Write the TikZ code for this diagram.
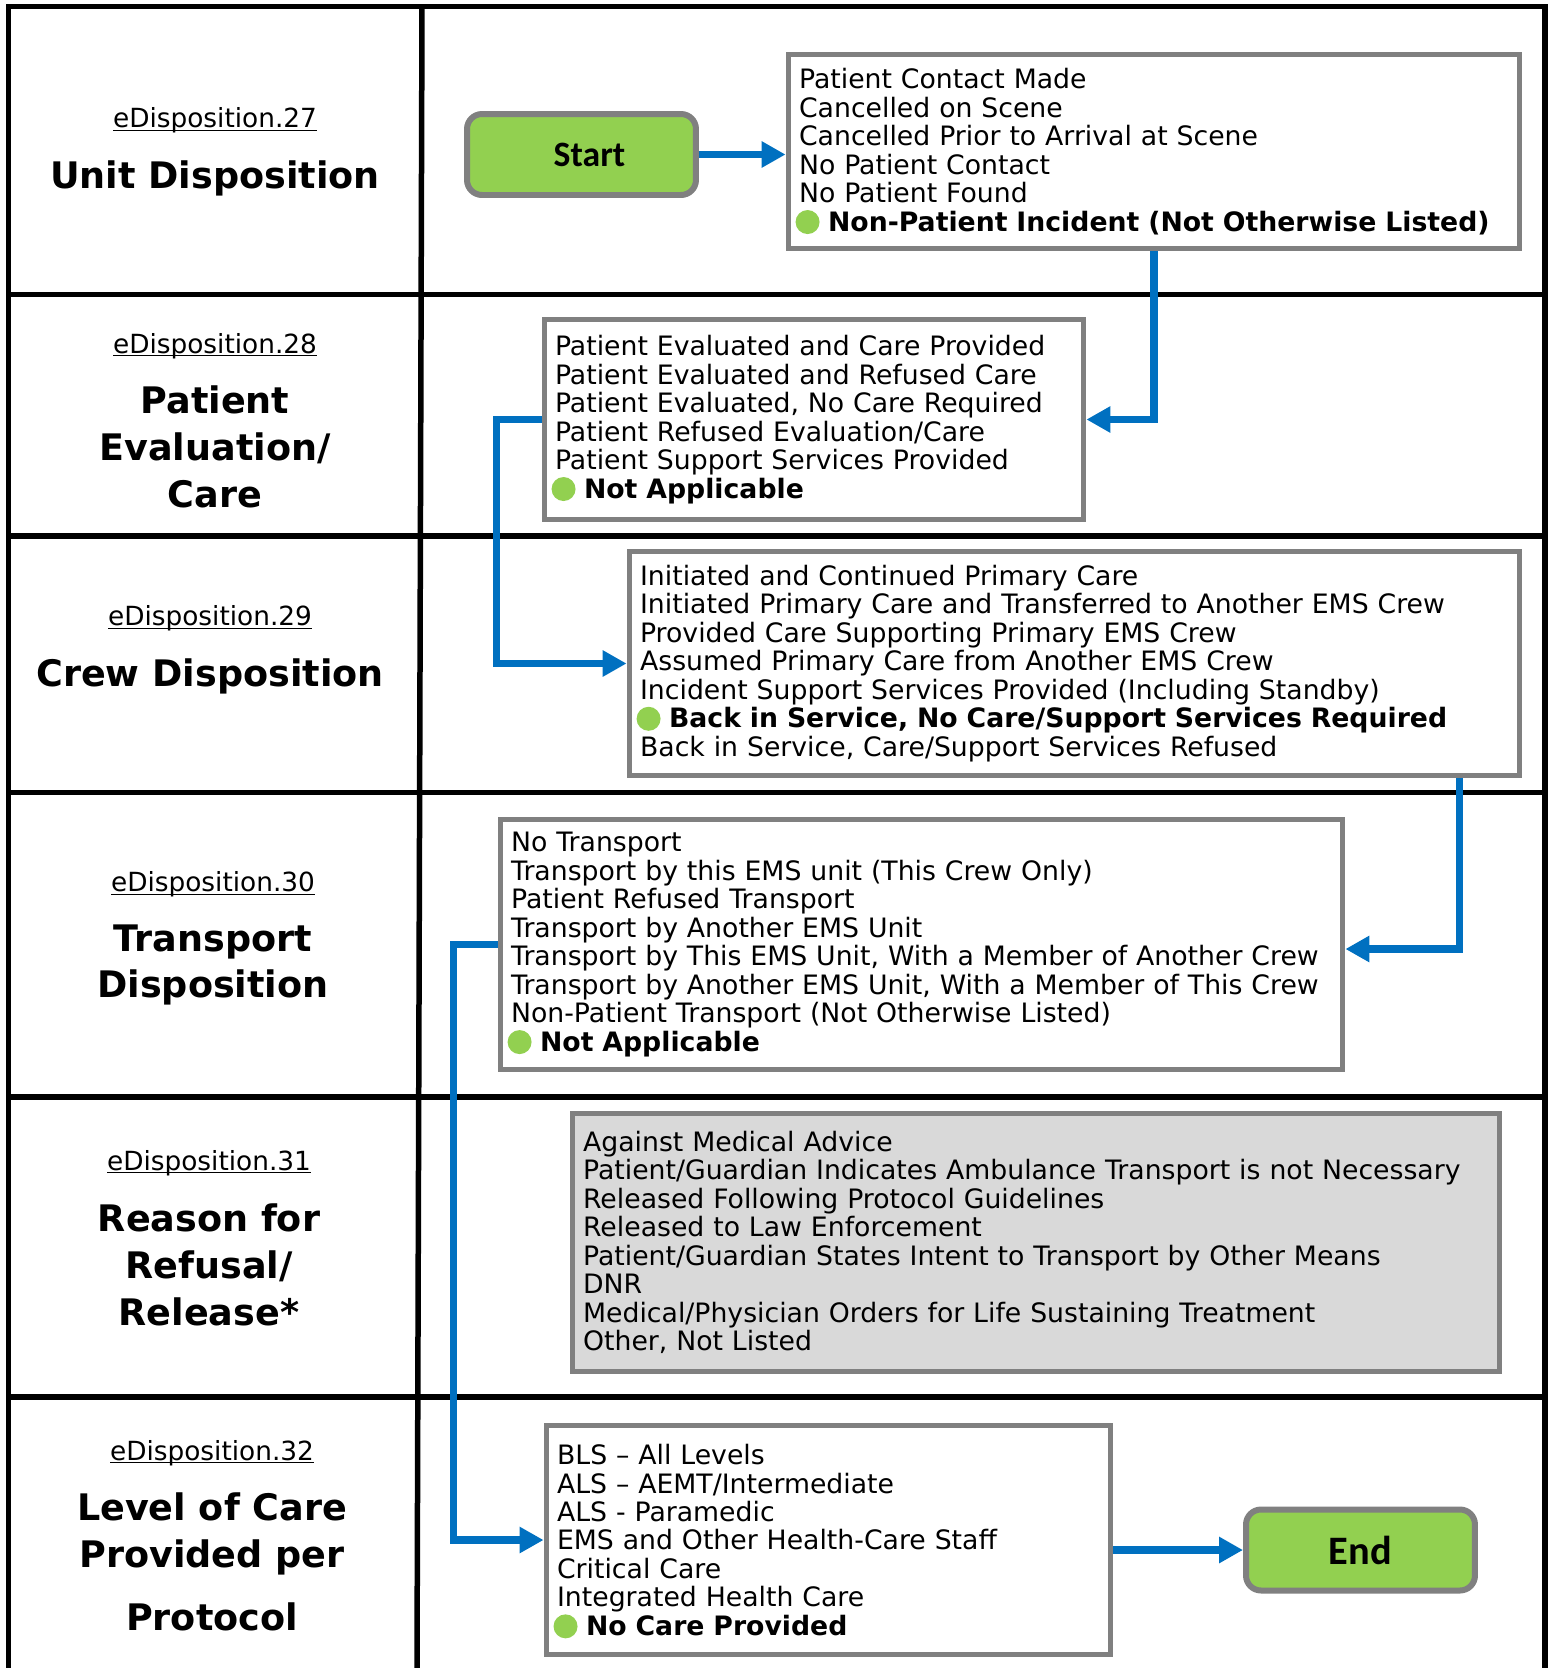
\documentclass[tikz,border=0pt]{standalone}
\usepackage{fontspec}
\setmainfont{DejaVu Sans}
\newfontfamily\termfont{Carlito}
\usetikzlibrary{arrows.meta}
\definecolor{flowblue}{HTML}{0070C0}
\definecolor{termgreen}{HTML}{92D050}
\definecolor{boxgray}{HTML}{808080}
\definecolor{fillgray}{HTML}{D9D9D9}
\newcommand{\gdot}{\makebox[0.58cm][l]{\hspace{-0.07cm}\smash{\tikz[baseline=-0.18cm]\fill[termgreen] (0.24cm,0cm) circle (0.24cm);}}}
\newcommand{\tagtext}[1]{\underline{\smash{#1}}}

\begin{document}
\begin{tikzpicture}[x=0.02cm, y=-0.02cm,
    frameline/.style={line width=0.11cm, black},
    listbox/.style={draw=boxgray, line width=0.1cm, fill=white, align=left, inner xsep=0.22cm, inner ysep=0.1cm, font=\fontsize{15.2}{16.2}\selectfont},
    termbox/.style={draw=boxgray, line width=0.12cm, fill=termgreen, rounded corners=0.3cm, minimum width=4.58cm, minimum height=1.62cm},
    tag/.style={anchor=base, font=\fontsize{15}{18}\selectfont},
    title/.style={align=center, font=\fontsize{20.8}{26.7}\selectfont\bfseries},
    flow/.style={draw=flowblue, line width=0.15cm, -{Triangle[length=0.48cm,width=0.5cm]}}]

\useasboundingbox (0,0) rectangle (1549,1668);

\draw[frameline] (8.7,1668) -- (8.7,6.3) -- (1545,6.3) -- (1545,1668);
\foreach \y in {294.5,536,792.5,1097,1397}
    \draw[frameline] (8.7,\y) -- (1545,\y);
\draw[frameline] (422,6.3) -- (417,1668);

\node[tag] (lbl27) at (215,127.7) {\tagtext{eDisposition.27}};
\node[title] (ttl27) at (215,178) {Unit Disposition};
\node[tag] (lbl28) at (215,353) {\tagtext{eDisposition.28}};
\node[title] (ttl28) at (215,447) {Patient\\Evaluation/\\Care};
\node[tag] (lbl29) at (210,625.5) {\tagtext{eDisposition.29}};
\node[title] (ttl29) at (210,676) {Crew Disposition};
\node[tag] (lbl30) at (213,891.5) {\tagtext{eDisposition.30}};
\node[title] (ttl30) at (213,965) {Transport\\Disposition};
\node[tag] (lbl31) at (209,1170) {\tagtext{eDisposition.31}};
\node[title] (ttl31) at (209,1265) {Reason for\\Refusal/\\Release*};
\node[tag] (lbl32) at (212,1460) {\tagtext{eDisposition.32}};
\node[title] (ttl32) at (212,1562) {Level of Care\\Provided per\\[0.32cm]Protocol};

\node[termbox, font=\termfont\bfseries\fontsize{20.3}{24}\selectfont] (start) at (581.5,154.5) {\hspace*{0.32cm}Start};
\node[termbox, font=\termfont\bfseries\fontsize{23}{27}\selectfont] (stop) at (1360.5,1550) {End};

\node[listbox, text width=14.2cm, minimum height=3.9cm] (disp27) at (1154,151.5) {Patient Contact Made\\
Cancelled on Scene\\
Cancelled Prior to Arrival at Scene\\
No Patient Contact\\
No Patient Found\\
\gdot\textbf{Non-Patient Incident (Not Otherwise Listed)}};

\node[listbox, text width=10.36cm, minimum height=4.02cm] (disp28) at (814,419.5) {Patient Evaluated and Care Provided\\
Patient Evaluated and Refused Care\\
Patient Evaluated, No Care Required\\
Patient Refused Evaluation/Care\\
Patient Support Services Provided\\
\gdot\textbf{Not Applicable}};

\node[listbox, text width=17.38cm, minimum height=4.5cm] (disp29) at (1074.5,663.5) {Initiated and Continued Primary Care\\
Initiated Primary Care and Transferred to Another EMS Crew\\
Provided Care Supporting Primary EMS Crew\\
Assumed Primary Care from Another EMS Crew\\
Incident Support Services Provided (Including Standby)\\
\gdot\textbf{Back in Service, No Care/Support Services Required}\\
Back in Service, Care/Support Services Refused};

\node[listbox, text width=16.42cm, minimum height=5.02cm] (disp30) at (921.5,944.5) {No Transport\\
Transport by this EMS unit (This Crew Only)\\
Patient Refused Transport\\
Transport by Another EMS Unit\\
Transport by This EMS Unit, With a Member of Another Crew\\
Transport by Another EMS Unit, With a Member of This Crew\\
Non-Patient Transport (Not Otherwise Listed)\\
\gdot\textbf{Not Applicable}};

\node[listbox, fill=fillgray, text width=18.12cm, minimum height=5.18cm] (disp31) at (1036,1242.5) {Against Medical Advice\\
Patient/Guardian Indicates Ambulance Transport is not Necessary\\
Released Following Protocol Guidelines\\
Released to Law Enforcement\\
Patient/Guardian States Intent to Transport by Other Means\\
DNR\\
Medical/Physician Orders for Life Sustaining Treatment\\
Other, Not Listed};

\node[listbox, text width=10.86cm, minimum height=4.6cm] (disp32) at (828.5,1540) {BLS – All Levels\\
ALS – AEMT/Intermediate\\
ALS - Paramedic\\
EMS and Other Health-Care Staff\\
Critical Care\\
Integrated Health Care\\
\gdot\textbf{No Care Provided}};

\draw[flow] (start.east) -- (start.east -| disp27.west);
\draw[flow] (disp27.south) |- (disp28.east);
\draw[flow] (disp28.west) -- ++(-45,0) |- (disp29.west);
\draw[flow] ([xshift=-1.26cm]disp29.south east) |- ([yshift=-0.09cm]disp30.east);
\draw[flow] (disp30.west) -- ++(-44,0) |- (disp32.west);
\draw[flow] (stop.west -| disp32.east) -- (stop.west);

\end{tikzpicture}
\end{document}
